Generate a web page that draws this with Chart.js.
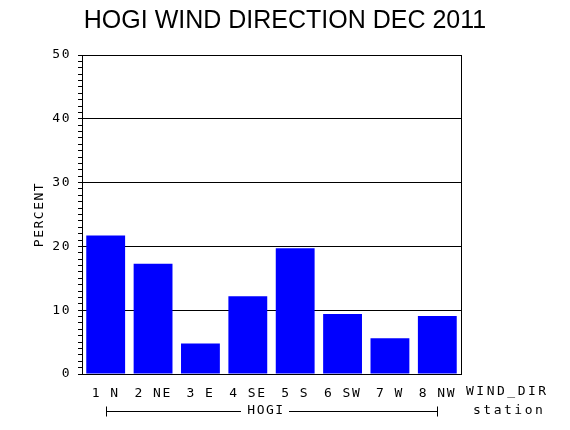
<!DOCTYPE html>
<html>
<head>
<meta charset="utf-8">
<script src="https://cdn.jsdelivr.net/npm/chart.js@4"></script>
<style>
  html, body { margin: 0; padding: 0; background: #fff; }
  #wrap { width: 570px; height: 430px; }
</style>
</head>
<body>
<div id="wrap"><canvas id="myChart" width="570" height="430"></canvas></div>
<script>
var directions = ['1 N', '2 NE', '3 E', '4 SE', '5 S', '6 SW', '7 W', '8 NW'];
var percents = [21.7, 17.3, 4.8, 12.2, 19.7, 9.4, 5.6, 9.1];
var stationName = 'HOGI';
var chartTitle = 'HOGI WIND DIRECTION DEC 2011';
var mono = '"DejaVu Sans Mono", monospace';

// letter spacing for the axis text, like the old plotter font
var spacing = {
  id: 'spacing',
  beforeDraw: function(chart) {
    chart.ctx.letterSpacing = '1.5px';
  }
};

// title, frame, second row of x labels, group bracket
var extras = {
  id: 'extras',
  afterDraw: function(chart) {
    var ctx = chart.ctx;
    var a = chart.chartArea;
    var x = chart.scales.x;
    ctx.save();
    ctx.strokeStyle = '#000';
    ctx.lineWidth = 1;
    ctx.strokeRect(a.left + 0.5, a.top + 0.5, a.right - a.left, a.bottom - a.top);

    ctx.fillStyle = '#000';
    ctx.letterSpacing = '0px';
    ctx.font = '25px "Liberation Sans", Arial, sans-serif';
    ctx.textAlign = 'center';
    ctx.textBaseline = 'middle';
    ctx.fillText(chartTitle, 285, 21);

    ctx.letterSpacing = '2.5px';
    ctx.font = '13px ' + mono;
    ctx.textAlign = 'left';
    ctx.fillText('WIND_DIR', 466, 392);
    ctx.fillText('station', 473, 411);

    var x1 = Math.round(x.getPixelForValue(0)) + 0.5;
    var x2 = Math.round(x.getPixelForValue(directions.length - 1)) + 0.5;
    var y = 411.5;
    var mid = Math.round((x1 + x2) / 2) - 7;
    ctx.letterSpacing = '1.5px';
    ctx.textAlign = 'center';
    ctx.fillText(stationName, mid + 1, 411);
    ctx.beginPath();
    ctx.moveTo(x1, y - 5); ctx.lineTo(x1, y + 5);
    ctx.moveTo(x1, y); ctx.lineTo(mid - 24, y);
    ctx.moveTo(mid + 24, y); ctx.lineTo(x2, y);
    ctx.moveTo(x2, y - 5); ctx.lineTo(x2, y + 5);
    ctx.stroke();
    ctx.restore();
  }
};

var ctx = document.getElementById('myChart').getContext('2d');
var myChart = new Chart(ctx, {
  type: 'bar',
  data: {
    labels: directions,
    datasets: [{
      label: 'PERCENT',
      data: percents,
      backgroundColor: '#0000ff',
      borderWidth: 0,
      barPercentage: 0.82,
      categoryPercentage: 1
    }]
  },
  options: {
    responsive: false,
    animation: false,
    layout: { padding: { left: 0, right: 109, top: 55, bottom: 0 } },
    plugins: {
      legend: { display: false },
      tooltip: { enabled: false },
      title: { display: false }
    },
    scales: {
      x: {
        grid: { display: false, drawTicks: false },
        border: { display: true, color: '#000' },
        ticks: { color: '#000', font: { family: mono, size: 13 }, padding: 12, maxRotation: 0 },
        afterFit: function(s) { s.height = 56; }
      },
      y: {
        min: 0,
        max: 50,
        border: { display: true, color: '#000' },
        grid: {
          color: function(c) { return c.tick && c.tick.value % 10 === 0 ? '#000' : 'rgba(0,0,0,0)'; },
          tickColor: '#000',
          tickLength: 4,
          lineWidth: 1
        },
        ticks: {
          stepSize: 1,
          maxTicksLimit: 100,
          autoSkip: false,
          color: '#000',
          padding: 7,
          font: { family: mono, size: 13 },
          callback: function(v) { return v % 10 === 0 ? v : ''; }
        },
        title: {
          display: true,
          text: 'PERCENT',
          color: '#000',
          font: { family: mono, size: 13 },
          padding: { top: 32, bottom: 0 }
        },
        afterFit: function(s) { s.width = 82; }
      }
    }
  },
  plugins: [spacing, extras]
});
</script>
</body>
</html>
